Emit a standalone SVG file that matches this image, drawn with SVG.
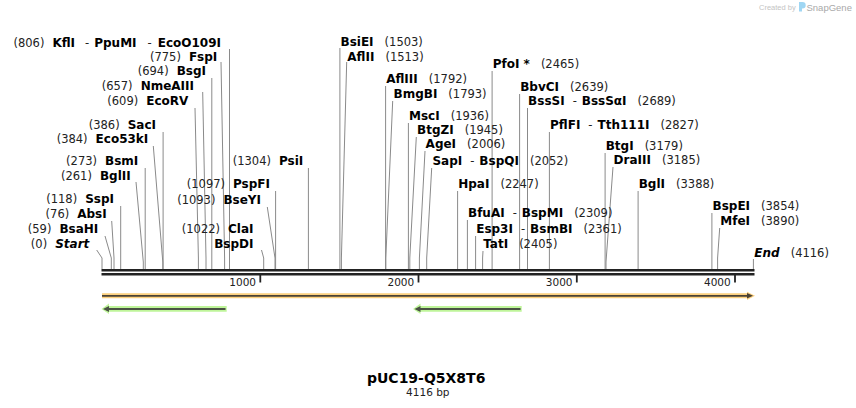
<svg xmlns="http://www.w3.org/2000/svg" width="856" height="408" viewBox="0 0 856 408">
<style>
.t{font-family:"DejaVu Sans",Verdana,sans-serif;font-size:11.5px;fill:#222}
.b{font-weight:bold;font-size:12px;fill:#000}
.bi{font-weight:bold;font-style:italic;font-size:12px;fill:#000}
.c{stroke:#8a8a8a;stroke-width:1;fill:none}
.tk{font-family:"DejaVu Sans",Verdana,sans-serif;font-size:10.5px;fill:#222;text-anchor:end}
</style>
<rect width="856" height="408" fill="#fff"/>
<g id="watermark">
<text x="759" y="10" font-family="Liberation Sans,Arial,sans-serif" font-size="7.5" fill="#c4c4c4">Created by</text>
<path d="M799,2 h3.5 a3.2,3.2 0 0 1 0,6.4 h-0.5 v3 h-3 z" fill="#9fd6f3"/>
<text x="806.5" y="10.5" font-family="Liberation Sans,Arial,sans-serif" font-size="9.5" fill="#a9a9a9">SnapGene</text>
</g>
<g id="connectors">
<polyline class="c" points="229.5,49 229.5,269"/>
<polyline class="c" points="221,62 224.6,258 224.6,269"/>
<polyline class="c" points="211.8,78 211.8,269"/>
<polyline class="c" points="202.7,92 206,258 206,269"/>
<polyline class="c" points="195,108 198.4,258 198.4,269"/>
<polyline class="c" points="163.1,132 163.1,269"/>
<polyline class="c" points="153.3,146 162.8,262 162.8,269"/>
<polyline class="c" points="145.2,168 145.2,269"/>
<polyline class="c" points="136,182 143.3,262 143.3,269"/>
<polyline class="c" points="120.7,206 120.7,269"/>
<polyline class="c" points="111.7,221 114,258 114,269"/>
<polyline class="c" points="105,236 111.3,258 111.3,269"/>
<polyline class="c" points="96.7,250 102,258 102,269"/>
<polyline class="c" points="261.5,250 263.7,258 263.7,269"/>
<polyline class="c" points="267.3,207 275,258 275,269"/>
<polyline class="c" points="275.6,191 275.6,269"/>
<polyline class="c" points="308.4,168 308.4,269"/>
<polyline class="c" points="339.9,48 339.9,269"/>
<polyline class="c" points="346.7,62 341.4,258 341.4,269"/>
<polyline class="c" points="385.6,86 385.6,269"/>
<polyline class="c" points="392.7,101 385.8,258 385.8,269"/>
<polyline class="c" points="408.4,123 408.4,269"/>
<polyline class="c" points="416.3,137 409.8,258 409.8,269"/>
<polyline class="c" points="425,151 419.4,258 419.4,269"/>
<polyline class="c" points="431.7,168 426.7,258 426.7,269"/>
<polyline class="c" points="457.6,191 457.6,269"/>
<polyline class="c" points="467.4,220 467.4,269"/>
<polyline class="c" points="475.6,236 475.6,269"/>
<polyline class="c" points="483,251 482.6,258 482.6,269"/>
<polyline class="c" points="492.1,71 492.1,269"/>
<polyline class="c" points="519.6,94 519.6,269"/>
<polyline class="c" points="527.5,108 527.5,269"/>
<polyline class="c" points="549.4,132 549.4,269"/>
<polyline class="c" points="605.1,153 605.1,269"/>
<polyline class="c" points="613,167 606,262 606,269"/>
<polyline class="c" points="638.1,191 638.1,269"/>
<polyline class="c" points="711.9,213 711.9,269"/>
<polyline class="c" points="719.7,228 717.6,258 717.6,269"/>
<polyline class="c" points="753.4,259 753.4,269"/>
</g>
<g id="axis">
<line x1="101.5" y1="270.3" x2="754.5" y2="270.3" stroke="#222" stroke-width="2.4"/>
<line x1="101.5" y1="274.3" x2="754.5" y2="274.3" stroke="#222" stroke-width="2.4"/>
<g stroke="#222" stroke-width="1.8">
<line x1="260.3" y1="275" x2="260.3" y2="282.5"/>
<line x1="418.5" y1="275" x2="418.5" y2="282.5"/>
<line x1="576.8" y1="275" x2="576.8" y2="282.5"/>
<line x1="735" y1="275" x2="735" y2="282.5"/>
</g>
<text class="tk" x="256" y="286">1000</text>
<text class="tk" x="414.2" y="286">2000</text>
<text class="tk" x="572.5" y="286">3000</text>
<text class="tk" x="730.7" y="286">4000</text>
</g>
<g id="feature-orange">
<path d="M102,293.3 H747 L747,291.7 L755,295.8 L747,300 L747,298.3 H102 Z" fill="#fcd07e"/>
<line x1="102" y1="295.8" x2="749" y2="295.8" stroke="#4a4236" stroke-width="1.8"/>
<path d="M747,293 L753,295.8 L747,298.6 Z" fill="#4a4236"/>
</g>
<g id="feature-green-1">
<path d="M226.7,306 H109 V303.5 L101.5,308.9 L109,314 V311.8 H226.7 Z" fill="#bff59a"/>
<line x1="107" y1="308.9" x2="225.5" y2="308.9" stroke="#4a5244" stroke-width="2"/>
<path d="M103,308.9 L109,305.9 L109,311.9 Z" fill="#4a5244"/>
</g>
<g id="feature-green-2">
<path d="M521.7,306 H420.5 V303.5 L413,308.9 L420.5,314 V311.8 H521.7 Z" fill="#bff59a"/>
<line x1="418.5" y1="308.9" x2="520.5" y2="308.9" stroke="#4a5244" stroke-width="2"/>
<path d="M414.5,308.9 L420.5,305.9 L420.5,311.9 Z" fill="#4a5244"/>
</g>
<g id="lbl-806"><text class="t" x="221" y="47" text-anchor="end">(806)<tspan class="b" dx="8">KflI</tspan><tspan dx="10">-</tspan><tspan class="b" dx="5">PpuMI</tspan><tspan dx="11">-</tspan><tspan class="b" dx="6">EcoO109I</tspan></text></g>
<g id="lbl-775"><text class="t" x="217.3" y="61" text-anchor="end">(775)<tspan class="b" dx="8">FspI</tspan></text></g>
<g id="lbl-694"><text class="t" x="206" y="75.3" text-anchor="end">(694)<tspan class="b" dx="8">BsgI</tspan></text></g>
<g id="lbl-657"><text class="t" x="194" y="89.5" text-anchor="end">(657)<tspan class="b" dx="8">NmeAIII</tspan></text></g>
<g id="lbl-609"><text class="t" x="188.3" y="105" text-anchor="end">(609)<tspan class="b" dx="8">EcoRV</tspan></text></g>
<g id="lbl-386"><text class="t" x="156" y="129.3" text-anchor="end">(386)<tspan class="b" dx="8">SacI</tspan></text></g>
<g id="lbl-384"><text class="t" x="148.3" y="142.5" text-anchor="end">(384)<tspan class="b" dx="8">Eco53kI</tspan></text></g>
<g id="lbl-273"><text class="t" x="138.3" y="165" text-anchor="end">(273)<tspan class="b" dx="8">BsmI</tspan></text></g>
<g id="lbl-261"><text class="t" x="130.7" y="180" text-anchor="end">(261)<tspan class="b" dx="8">BglII</tspan></text></g>
<g id="lbl-118"><text class="t" x="114" y="203.3" text-anchor="end">(118)<tspan class="b" dx="8">SspI</tspan></text></g>
<g id="lbl-76"><text class="t" x="106.7" y="218.3" text-anchor="end">(76)<tspan class="b" dx="8">AbsI</tspan></text></g>
<g id="lbl-59"><text class="t" x="98.3" y="233.3" text-anchor="end">(59)<tspan class="b" dx="8">BsaHI</tspan></text></g>
<g id="lbl-0"><text class="t" x="89.3" y="248.3" text-anchor="end">(0)<tspan class="bi" dx="8">Start</tspan></text></g>
<g id="lbl-1022"><text class="t" x="253.5" y="233.3" text-anchor="end">(1022)<tspan class="b" dx="8">ClaI</tspan></text><text class="t b" x="253.5" y="248.3" text-anchor="end">BspDI</text></g>
<g id="lbl-1093"><text class="t" x="261" y="204.3" text-anchor="end">(1093)<tspan class="b" dx="8">BseYI</tspan></text></g>
<g id="lbl-1097"><text class="t" x="270" y="188.3" text-anchor="end">(1097)<tspan class="b" dx="8">PspFI</tspan></text></g>
<g id="lbl-1304"><text class="t" x="303.3" y="165" text-anchor="end">(1304)<tspan class="b" dx="8">PsiI</tspan></text></g>
<g id="lbl-1503"><text class="t" x="340.5" y="46.3"><tspan class="b">BsiEI</tspan><tspan dx="11">(1503)</tspan></text></g>
<g id="lbl-1513"><text class="t" x="347.3" y="60.5"><tspan class="b">AflII</tspan><tspan dx="11">(1513)</tspan></text></g>
<g id="lbl-1792"><text class="t" x="386.2" y="83.3"><tspan class="b">AflIII</tspan><tspan dx="11">(1792)</tspan></text></g>
<g id="lbl-1793"><text class="t" x="393.5" y="98.3"><tspan class="b">BmgBI</tspan><tspan dx="11">(1793)</tspan></text></g>
<g id="lbl-1936"><text class="t" x="409" y="120"><tspan class="b">MscI</tspan><tspan dx="11">(1936)</tspan></text></g>
<g id="lbl-1945"><text class="t" x="417" y="134.3"><tspan class="b">BtgZI</tspan><tspan dx="11">(1945)</tspan></text></g>
<g id="lbl-2006"><text class="t" x="425.6" y="148.3"><tspan class="b">AgeI</tspan><tspan dx="11">(2006)</tspan></text></g>
<g id="lbl-2052"><text class="t" x="432.4" y="165"><tspan class="b">SapI</tspan><tspan dx="8">-</tspan><tspan class="b" dx="5">BspQI</tspan><tspan dx="11">(2052)</tspan></text></g>
<g id="lbl-2247"><text class="t" x="458.2" y="188.3"><tspan class="b">HpaI</tspan><tspan dx="11">(2247)</tspan></text></g>
<g id="lbl-2309"><text class="t" x="468" y="217.3"><tspan class="b">BfuAI</tspan><tspan dx="8">-</tspan><tspan class="b" dx="5">BspMI</tspan><tspan dx="11">(2309)</tspan></text></g>
<g id="lbl-2361"><text class="t" x="476.2" y="233.3"><tspan class="b">Esp3I</tspan><tspan dx="8">-</tspan><tspan class="b" dx="5">BsmBI</tspan><tspan dx="11">(2361)</tspan></text></g>
<g id="lbl-2405"><text class="t" x="483.2" y="248.3"><tspan class="b">TatI</tspan><tspan dx="11">(2405)</tspan></text></g>
<g id="lbl-2465"><text class="t" x="492.7" y="68.3"><tspan class="b">PfoI *</tspan><tspan dx="11">(2465)</tspan></text></g>
<g id="lbl-2639"><text class="t" x="520.2" y="91"><tspan class="b">BbvCI</tspan><tspan dx="11">(2639)</tspan></text></g>
<g id="lbl-2689"><text class="t" x="528.1" y="105"><tspan class="b">BssSI</tspan><tspan dx="8">-</tspan><tspan class="b" dx="5">BssSαI</tspan><tspan dx="11">(2689)</tspan></text></g>
<g id="lbl-2827"><text class="t" x="550" y="129"><tspan class="b">PflFI</tspan><tspan dx="8">-</tspan><tspan class="b" dx="5">Tth111I</tspan><tspan dx="11">(2827)</tspan></text></g>
<g id="lbl-3179"><text class="t" x="605.7" y="150"><tspan class="b">BtgI</tspan><tspan dx="11">(3179)</tspan></text></g>
<g id="lbl-3185"><text class="t" x="613.6" y="164.3"><tspan class="b">DraIII</tspan><tspan dx="11">(3185)</tspan></text></g>
<g id="lbl-3388"><text class="t" x="638.7" y="188.3"><tspan class="b">BglI</tspan><tspan dx="11">(3388)</tspan></text></g>
<g id="lbl-3854"><text class="t" x="712.5" y="210"><tspan class="b">BspEI</tspan><tspan dx="11">(3854)</tspan></text></g>
<g id="lbl-3890"><text class="t" x="720.3" y="225"><tspan class="b">MfeI</tspan><tspan dx="11">(3890)</tspan></text></g>
<g id="lbl-4116"><text class="t" x="754.3" y="256.7"><tspan class="bi">End</tspan><tspan dx="11">(4116)</tspan></text></g>
<g id="title">
<text x="426.2" y="382.5" text-anchor="middle" font-family="DejaVu Sans,Verdana,sans-serif" font-weight="bold" font-size="14" fill="#000">pUC19-Q5X8T6</text>
<text x="427.8" y="395.5" text-anchor="middle" font-family="DejaVu Sans,Verdana,sans-serif" font-size="10.5" fill="#222">4116 bp</text>
</g>
</svg>
